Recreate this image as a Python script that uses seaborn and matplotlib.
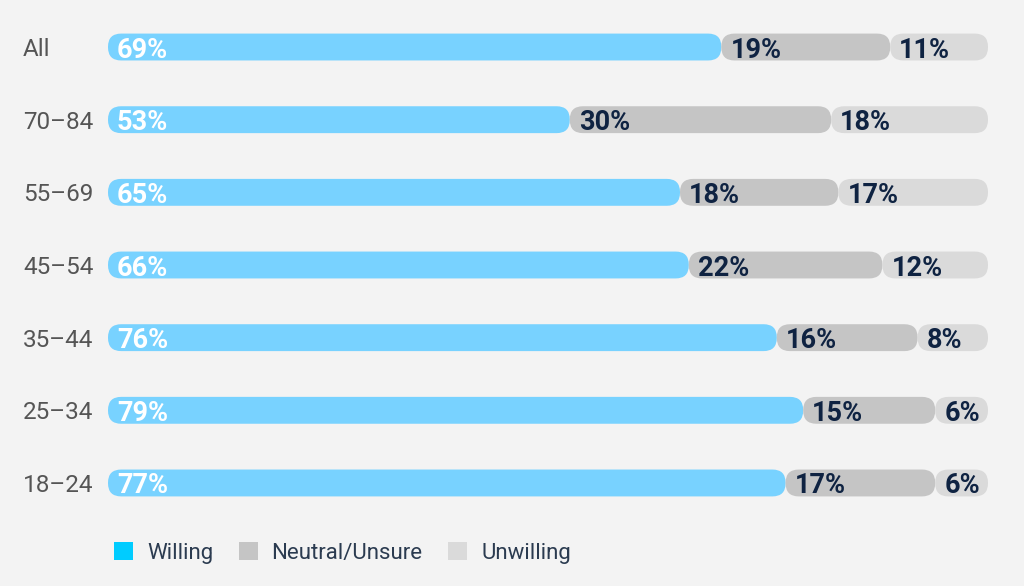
import matplotlib.pyplot as plt
import seaborn as sns
import pandas as pd
from matplotlib.patches import FancyBboxPatch, Patch

groups = ["All", "70–84", "55–69", "45–54", "35–44", "25–34", "18–24"]
willing = [69, 53, 65, 66, 76, 79, 77]
neutral = [19, 30, 18, 22, 16, 15, 17]
unwilling = [11, 18, 17, 12, 8, 6, 6]

series = ["Willing", "Neutral/Unsure", "Unwilling"]
bar_colors = ["#78d2ff", "#c5c5c5", "#dadada"]
legend_colors = ["#00ccff", "#c5c5c5", "#dadada"]
label_colors = ["white", "#0f2342", "#0f2342"]
bg = "#f3f3f3"

sns.set_theme(style="white")
plt.rcParams["font.family"] = ["Roboto", "DejaVu Sans"]

df = pd.DataFrame({"group": groups, "Willing": willing,
                   "Neutral/Unsure": neutral, "Unwilling": unwilling})
# bars are drawn full length, so shares are normalised to 100
shares = df[series].div(df[series].sum(axis=1), axis=0) * 100
ends = shares.cumsum(axis=1)
starts = ends - shares

fig = plt.figure(figsize=(10.24, 5.86), dpi=100, facecolor=bg)
ax = fig.add_axes([108 / 1024, 1 - 519.3 / 586, 880 / 1024, 508.6 / 586])
ax.set_facecolor(bg)

for s, c in zip(series, bar_colors):
    sns.barplot(x=ends[s], y=df["group"], orient="h", color=c,
                saturation=1, width=0.37, ax=ax)

ax.set_xlim(0, 100)
ax.set_ylim(len(groups) - 0.5, -0.5)

# turn the rectangles into pills placed side by side
bb = ax.get_window_extent()
sx = bb.width / 100
sy = bb.height / len(groups)
aspect = sx / sy
for s, cont in zip(series, ax.containers):
    for j, rect in enumerate(cont.patches):
        h = rect.get_height()
        y0 = rect.get_y()
        pill = FancyBboxPatch(
            (starts[s][j], y0), shares[s][j], h,
            boxstyle=f"round,pad=0,rounding_size={h / aspect / 2 * 0.98}",
            mutation_aspect=aspect, facecolor=rect.get_facecolor(),
            edgecolor="none", linewidth=0)
        rect.remove()
        ax.add_patch(pill)

pad = 9 / sx
for s, col in zip(series, label_colors):
    for j in range(len(groups)):
        ax.text(starts[s][j] + pad, j, f"{df[s][j]}%", ha="left",
                va="center_baseline", fontsize=19.5, fontweight="bold",
                color=col)

ax.set_xlabel("")
ax.set_ylabel("")
ax.set_xticks([])
# labels are left aligned at x=23px
ax.tick_params(axis="y", length=0, pad=(108 - 23) * 0.72, labelsize=17.5,
               labelcolor="#555555")
for lab in ax.get_yticklabels():
    lab.set_horizontalalignment("left")
sns.despine(ax=ax, left=True, bottom=True)

handles = [Patch(facecolor=c, edgecolor="none", label=s)
           for s, c in zip(series, legend_colors)]
fig.legend(handles=handles, loc="center left",
           bbox_to_anchor=(114 / 1024, 1 - 553 / 586), ncol=3,
           frameon=False, fontsize=16, labelcolor="#2b3b50",
           handlelength=0.86, handleheight=0.86, handletextpad=0.62,
           columnspacing=1.15, borderpad=0, borderaxespad=0)

fig.savefig("out.png", dpi=100, facecolor=bg)
